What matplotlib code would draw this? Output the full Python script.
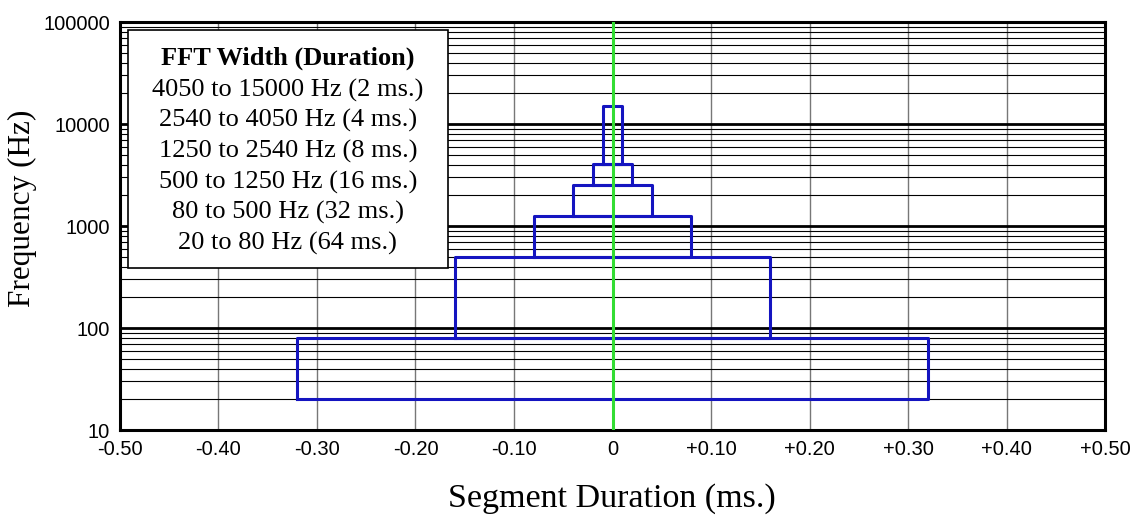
import matplotlib.pyplot as plt
import numpy as np
from matplotlib.ticker import FixedLocator, FuncFormatter

# FFT bands: low/high frequency (Hz) and segment half-width on the x axis
band_low = [4050, 2540, 1250, 500, 80, 20]
band_high = [15000, 4050, 2540, 1250, 500, 80]
half_width = [0.01, 0.02, 0.04, 0.08, 0.16, 0.32]
duration_ms = [2, 4, 8, 16, 32, 64]

x_ticks = [-0.5, -0.4, -0.3, -0.2, -0.1, 0, 0.1, 0.2, 0.3, 0.4, 0.5]
y_ticks = [10, 100, 1000, 10000, 100000]

serif = ['Liberation Serif', 'DejaVu Serif']
sans = ['Liberation Sans', 'DejaVu Sans']

fig = plt.figure(figsize=(11.35, 5.15), dpi=100)
ax = fig.add_axes([0.1057, 0.165, 0.8679, 0.792])

ax.set_yscale('log')
ax.set_xlim(-0.5, 0.5)
ax.set_ylim(10, 100000)

# grid: thick black decades, thin black minor, gray verticals
ax.yaxis.set_major_locator(FixedLocator(y_ticks))
minors = [m * d for d in [10, 100, 1000, 10000] for m in range(2, 10)]
ax.yaxis.set_minor_locator(FixedLocator(minors))
ax.set_xticks(x_ticks)
ax.grid(which='major', axis='y', color='black', linewidth=2.0)
ax.grid(which='minor', axis='y', color='black', linewidth=0.8)
ax.grid(which='major', axis='x', color='#777777', linewidth=1.0)
ax.set_axisbelow(True)


def fmt_x(v, pos):
    if abs(v) < 1e-9:
        return '0'
    return '%+.2f' % v


ax.xaxis.set_major_formatter(FuncFormatter(fmt_x))
ax.yaxis.set_major_formatter(FuncFormatter(lambda v, p: '%d' % v))
ax.tick_params(which='both', length=0, labelsize=14.5)
ax.tick_params(axis='x', pad=7)
ax.tick_params(axis='y', pad=7)
ax.tick_params(axis='y', which='minor', labelleft=False)
for lab in ax.get_xticklabels() + ax.get_yticklabels():
    lab.set_family(sans)

for s in ax.spines.values():
    s.set_linewidth(2.2)

# the boxes
for lo, hi, hw in zip(band_low, band_high, half_width):
    xs = [-hw, hw, hw, -hw, -hw]
    ys = [lo, lo, hi, hi, lo]
    ax.plot(xs, ys, color='#1414c0', linewidth=2.2, zorder=3)

ax.axvline(0, color='#33dd33', linewidth=2.2, zorder=4)

# legend box
box = plt.Rectangle((0.008, 0.397), 0.325, 0.583, transform=ax.transAxes,
                    facecolor='white', edgecolor='black', linewidth=1.2, zorder=5)
ax.add_patch(box)
lines = ['%d to %d Hz (%d ms.)' % (lo, hi, d)
         for lo, hi, d in zip(band_low, band_high, duration_ms)]
ax.text(0.1705, 0.912, 'FFT Width (Duration)', transform=ax.transAxes,
        ha='center', va='center', fontsize=19, fontweight='bold',
        family=serif, zorder=6)
for i, t in enumerate(lines):
    ax.text(0.1705, 0.833 - i * 0.075, t, transform=ax.transAxes,
            ha='center', va='center', fontsize=19, family=serif, zorder=6)

fig.text(0.0195, 0.596, 'Frequency (Hz)', rotation=90, ha='center', va='center',
         fontsize=22.5, family=serif)
fig.text(0.539, 0.016, 'Segment Duration (ms.)', ha='center', va='baseline',
         fontsize=24.5, family=serif)

fig.savefig('out.png', dpi=100)
